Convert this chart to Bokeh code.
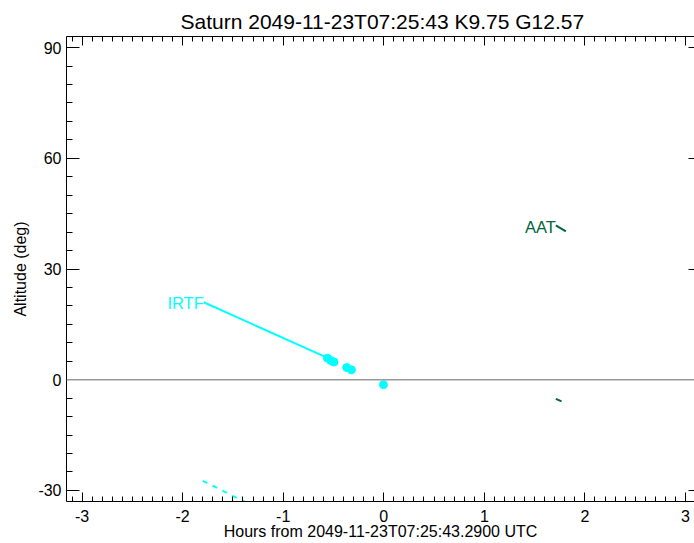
from bokeh.plotting import figure
from bokeh.models import (Range1d, LinearAxis, SingleIntervalTicker, Span,
                          CustomLabelingPolicy)
from bokeh.core.properties import value
from bokeh.embed import file_html
from bokeh.resources import INLINE

# ---- data ----
title_text = "Saturn 2049-11-23T07:25:43  K9.75  G12.57"
x_label = "Hours from 2049-11-23T07:25:43.2900 UTC"
y_label = "Altitude (deg)"
x_tick_values = [-3, -2, -1, 0, 1, 2, 3]
x_tick_labels = ["-3", "-2", "-1", "0", "1", "2", "3"]
y_tick_values = [-30, 0, 30, 60, 90]
y_tick_labels = ["-30", "0", "30", "60", "90"]

irtf_line_hours = [-1.79, -0.56]
irtf_line_alt = [21.0, 5.9]
irtf_point_hours = [-0.560, -0.527, -0.495, -0.368, -0.321, -0.003]
irtf_point_alt = [5.85, 5.2, 4.8, 3.29, 2.67, -1.35]
irtf_dash_hours = [-1.80, -1.30]
irtf_dash_alt = [-27.4, -34.2]

aat_line_hours = [1.711, 1.811]
aat_line_alt = [41.8, 40.2]
aat_low_hours = [1.711, 1.768]
aat_low_alt = [-5.2, -5.85]

CYAN = "#00FFFF"
GREEN = "#00663A"
FONT = "Liberation Sans"

p = figure(width=694, height=542, output_backend="svg", toolbar_location=None,
           x_range=Range1d(-3.155, 3.09), y_range=Range1d(-33, 93),
           x_axis_location=None, y_axis_location=None,
           min_border_left=66, min_border_right=0, min_border_top=36, min_border_bottom=30)
p.grid.visible = False
p.outline_line_color = None
p.background_fill_color = "white"
p.border_fill_color = "white"

p.title.text = title_text
p.title.align = "left"
p.title.offset = 114
p.title.text_font = FONT
p.title.text_font_size = "21px"
p.title.text_font_style = "normal"
p.title.text_color = "black"
p.title.standoff = 7

no_labels = CustomLabelingPolicy(code="return new indices.constructor(indices.size)")


def style(ax, maj, mnr, labels=True):
    ax.major_tick_in = maj
    ax.major_tick_out = 0
    ax.minor_tick_in = mnr
    ax.minor_tick_out = 0
    ax.axis_line_color = "black"
    ax.major_tick_line_color = "black"
    ax.minor_tick_line_color = "black"
    ax.major_label_text_font = FONT
    ax.major_label_text_color = "black"
    ax.axis_label_text_font = FONT
    ax.axis_label_text_font_style = "normal"
    ax.axis_label_text_color = "black"
    ax.axis_label_text_font_size = "16px"
    if labels:
        ax.major_label_text_font_size = "16px"
    else:
        ax.major_label_text_font_size = "0px"
        ax.major_label_policy = no_labels
        ax.major_label_standoff = 0


x_overrides = {v: s for v, s in zip(x_tick_values, x_tick_labels)}
y_overrides = {v: s for v, s in zip(y_tick_values, y_tick_labels)}

xb = LinearAxis(ticker=SingleIntervalTicker(interval=1, num_minor_ticks=10), axis_label=x_label)
style(xb, 9, 5)
xb.major_label_overrides = x_overrides
xb.major_label_standoff = 8
xb.axis_label_standoff = -2
p.add_layout(xb, "below")

xt = LinearAxis(ticker=SingleIntervalTicker(interval=1, num_minor_ticks=10))
style(xt, 9, 5, labels=False)
p.add_layout(xt, "above")

yl = LinearAxis(ticker=SingleIntervalTicker(interval=30, num_minor_ticks=6), axis_label=y_label)
style(yl, 13, 6)
yl.major_label_overrides = y_overrides
yl.major_label_standoff = 5
yl.axis_label_standoff = 6
p.add_layout(yl, "left")

yr = LinearAxis(ticker=SingleIntervalTicker(interval=30, num_minor_ticks=6))
style(yr, 6, 0, labels=False)
yr.axis_line_color = None
yr.minor_tick_line_color = None
p.add_layout(yr, "right")

p.add_layout(Span(location=0, dimension="width", line_color="#999999", line_width=1.5))

# IRTF
p.line(irtf_line_hours, irtf_line_alt, line_color=CYAN, line_width=2)
p.scatter(irtf_point_hours, irtf_point_alt, size=8, fill_color=CYAN, line_color=CYAN)
p.line(irtf_dash_hours, irtf_dash_alt, line_color=CYAN, line_width=2, line_dash="5 6")
p.text(x=[irtf_line_hours[0]], y=[irtf_line_alt[0]], text=["IRTF"], text_color=CYAN,
       text_font=value(FONT), text_font_size="16.5px", text_align="right",
       text_baseline="alphabetic", y_offset=1)

# AAT
p.line(aat_line_hours, aat_line_alt, line_color=GREEN, line_width=2)
p.line(aat_low_hours, aat_low_alt, line_color=GREEN, line_width=2)
p.text(x=[aat_line_hours[0]], y=[aat_line_alt[0]], text=["AAT"], text_color=GREEN,
       text_font=value(FONT), text_font_size="16.5px", text_align="right",
       text_baseline="alphabetic", y_offset=2)

open("out.html", "w").write(file_html(p, INLINE))
